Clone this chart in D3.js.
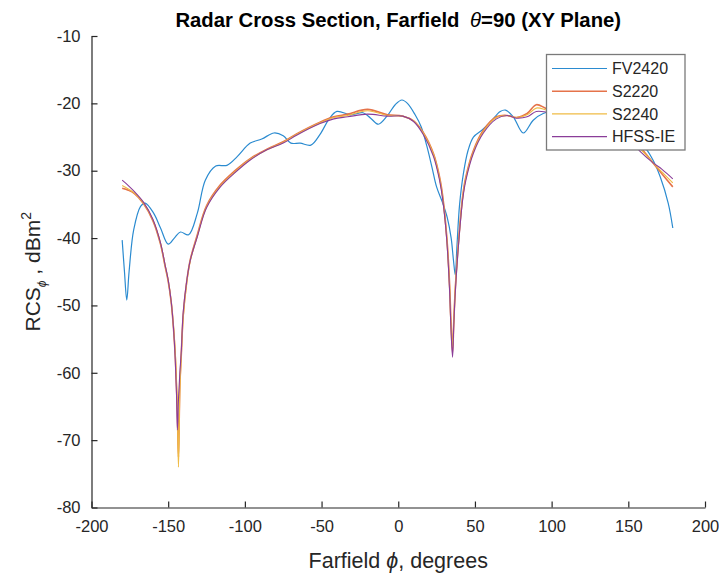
<!DOCTYPE html>
<html>
<head>
<meta charset="utf-8">
<script src="https://cdn.jsdelivr.net/npm/d3@7"></script>
<style>
  html, body { margin: 0; padding: 0; background: #ffffff; }
  svg { display: block; font-family: "Liberation Sans", Arial, Helvetica, sans-serif; }
</style>
</head>
<body>
<svg id="chart" width="719" height="576"></svg>
<script>
// Farfield angle samples (degrees) shared by the three smooth solver curves
const phiSmooth = [-180, -176, -172, -166, -160, -155, -152, -150, -148, -146.5, -145.4, -144.6, -144, -143.3, -142.4, -141.5, -140.2, -138, -135.6, -131, -125, -116, -107, -96.5, -85.6, -75, -66, -51, -42, -33, -20, -7, 3, 10, 16.5, 23, 27, 29, 31.7, 33.5, 34.3, 35.4, 36.2, 37.2, 39.3, 42, 44, 49, 55.5, 64, 71, 77, 84, 90, 97, 110, 125, 140, 150, 158, 166, 172, 179];

// RCS values in dBm^2
const hfssIE = [-31.4, -32.2, -33.1, -34.7, -37.2, -40.7, -44, -46.2, -49.5, -53.5, -58, -63, -68.5, -64, -60, -57, -51, -46.5, -43.3, -39.8, -35.5, -32.4, -30.4, -28.4, -26.9, -25.9, -24.7, -23, -22.3, -22, -21.6, -21.9, -21.9, -22.7, -24.7, -27.9, -31.5, -34.3, -40.5, -48, -53, -57.7, -53, -48, -41, -34.3, -31.5, -27.4, -24.4, -22.3, -21.8, -22.2, -22, -21.2, -21.3, -21.8, -22.6, -23.8, -25.2, -27.2, -28.8, -29.8, -31.2];

const s2220 = [-32.6, -32.9, -33.4, -34.9, -37.4, -40.9, -44.2, -46.4, -49.6, -53.5, -57.5, -62, -66, -72.5, -62, -57.5, -51.5, -46.6, -43.2, -39.5, -35.2, -32.1, -30.1, -28.2, -26.8, -25.7, -24.5, -22.8, -22, -21.6, -20.9, -21.7, -21.9, -22.6, -24.4, -27.5, -31, -33.8, -40, -47, -52, -57, -52.5, -47.5, -40.5, -33.8, -31, -27, -24, -22, -21.8, -22.1, -21.5, -20.2, -20.8, -21.5, -22.4, -23.6, -25, -26.6, -28.8, -30.5, -32.4];

const s2240 = [-32.2, -32.7, -33.3, -34.8, -37.3, -40.8, -44.1, -46.3, -49.5, -53.3, -57, -61.5, -65.5, -74, -62.5, -57.7, -51.7, -46.8, -43.4, -39.7, -35.4, -32.3, -30.3, -28.3, -26.9, -25.8, -24.6, -22.9, -22.1, -21.8, -21.1, -21.8, -21.9, -22.6, -24.5, -27.6, -31.2, -34, -40.2, -47.5, -52.5, -56.2, -52.5, -47.5, -40.7, -34, -31.2, -27.2, -24.2, -22.1, -21.8, -22.1, -21.7, -20.7, -21, -21.6, -22.5, -23.7, -25.1, -26.8, -28.8, -30.2, -31.8];

// Measured curve on its own angle grid
const phiFV = [-180, -178.5, -177, -175.5, -172.5, -168, -165, -159.5, -155, -150, -146, -142, -136.7, -131, -125.8, -119, -111.7, -105, -96.5, -89, -81, -75, -70, -64, -57, -51, -45, -40, -31, -23, -18, -13, -7, -2, 2.4, 6, 11, 15, 18.7, 22, 25, 29, 32, 34.5, 36, 37.2, 38.2, 40, 42.5, 45.5, 49, 54.5, 60, 66.5, 70, 75, 81.5, 88, 94.5, 100, 110, 120, 130, 140, 150, 157, 162, 166.5, 170.8, 176, 179];
const fv2420 = [-40.3, -45, -49.2, -45, -38.8, -35.3, -34.8, -36.3, -38.5, -40.9, -40, -39.1, -39.5, -36.3, -31.4, -29.3, -29.2, -27.9, -25.9, -25.3, -24.4, -24.8, -25.9, -25.9, -26.2, -24.6, -22.3, -21.2, -21.7, -21.4, -22.2, -23.1, -21.8, -20.2, -19.5, -20, -21.7, -23.5, -26.4, -29.5, -32.4, -34.8, -37, -40, -43.3, -45.5, -41.5, -35, -30.4, -27, -25, -24, -22.8, -21.2, -21, -22, -24.4, -22.5, -21.5, -21.3, -22.3, -21.8, -22.8, -23, -24.5, -25.8, -26.9, -28.6, -30.9, -34.8, -38.5];

const seriesNames = ["FV2420", "S2220", "S2240", "HFSS-IE"];
const xTicks = [-200, -150, -100, -50, 0, 50, 100, 150, 200];
const yTicks = [-80, -70, -60, -50, -40, -30, -20, -10];

const series = [
  { name: seriesNames[0], phi: phiFV, rcs: fv2420, color: "#2b8bd0", width: 1.2 },
  { name: seriesNames[1], phi: phiSmooth, rcs: s2220, color: "#e5734a", width: 1.6 },
  { name: seriesNames[2], phi: phiSmooth, rcs: s2240, color: "#efbb45", width: 1.2 },
  { name: seriesNames[3], phi: phiSmooth, rcs: hfssIE, color: "#8a3d99", width: 1.1 }
];

const svg = d3.select("#chart");
const plot = { left: 91.5, right: 705, top: 36, bottom: 507.5 };
const axisColor = "#262626";

const x = d3.scaleLinear().domain([-200, 200]).range([plot.left, plot.right]);
const y = d3.scaleLinear().domain([-80, -10]).range([plot.bottom, plot.top]);

svg.append("defs").append("clipPath").attr("id", "plotClip")
  .append("rect")
  .attr("x", plot.left).attr("y", plot.top)
  .attr("width", plot.right - plot.left).attr("height", plot.bottom - plot.top);

// Curves
const line = d3.line()
  .x(d => x(d[0]))
  .y(d => y(d[1]))
  .curve(d3.curveCatmullRom.alpha(0.5));

const curves = svg.append("g").attr("clip-path", "url(#plotClip)");
series.forEach(s => {
  curves.append("path")
    .datum(s.phi.map((p, i) => [p, s.rcs[i]]))
    .attr("d", line)
    .attr("fill", "none")
    .attr("stroke", s.color)
    .attr("stroke-width", s.width)
    .attr("stroke-linejoin", "round");
});

// Axes (ticks point inward, no box); plain hyphen for negative labels
const fmt = d => String(d);
const xAxis = d3.axisBottom(x).tickValues(xTicks).tickFormat(fmt).tickSizeInner(-6).tickSizeOuter(0).tickPadding(11);
const yAxis = d3.axisLeft(y).tickValues(yTicks).tickFormat(fmt).tickSizeInner(-6).tickSizeOuter(0).tickPadding(11);

const gx = svg.append("g").attr("transform", `translate(0,${plot.bottom})`).call(xAxis);
const gy = svg.append("g").attr("transform", `translate(${plot.left},0)`).call(yAxis);

[gx, gy].forEach(g => {
  g.select(".domain").attr("stroke", axisColor).attr("stroke-width", 1.2);
  g.selectAll(".tick line").attr("stroke", axisColor).attr("stroke-width", 1.2);
  g.selectAll(".tick text")
    .attr("fill", axisColor)
    .style("font-family", "'Liberation Sans', Arial, sans-serif")
    .style("font-size", "16.5px");
});
gx.selectAll(".tick text").attr("dy", "0.8em");

// Title
const title = svg.append("text")
  .attr("x", (plot.left + plot.right) / 2)
  .attr("y", 27)
  .attr("text-anchor", "middle")
  .attr("fill", "#000")
  .style("font-size", "20.3px")
  .style("font-weight", "bold");
title.append("tspan").text("Radar Cross Section, Farfield ");
title.append("tspan").attr("dx", 5).style("font-style", "italic").style("font-weight", "normal").text("θ");
title.append("tspan").text("=90 (XY Plane)");

// X label
const xl = svg.append("text")
  .attr("x", (plot.left + plot.right) / 2)
  .attr("y", 568)
  .attr("text-anchor", "middle")
  .attr("fill", axisColor)
  .style("font-size", "21.5px");
xl.append("tspan").text("Farfield ");
xl.append("tspan").style("font-style", "italic").text("ϕ");
xl.append("tspan").text(", degrees");

// Y label
const yl = svg.append("text")
  .attr("transform", `translate(40,${(plot.top + plot.bottom) / 2}) rotate(-90)`)
  .attr("text-anchor", "middle")
  .attr("fill", axisColor)
  .style("font-size", "21px");
yl.append("tspan").text("RCS");
yl.append("tspan").attr("dy", 6).style("font-size", "12px").style("font-style", "italic").text("ϕ");
yl.append("tspan").attr("dy", -6).text(" , dBm");
yl.append("tspan").attr("dy", -9).style("font-size", "14px").text("2");

// Legend
const legend = svg.append("g");
legend.append("rect")
  .attr("x", 546.5).attr("y", 54.5)
  .attr("width", 138.5).attr("height", 95.5)
  .attr("fill", "#ffffff")
  .attr("stroke", "#7a7a7a")
  .attr("stroke-width", 1.3);
series.forEach((s, i) => {
  const ly = 68.5 + i * 22.7;
  legend.append("line")
    .attr("x1", 552).attr("x2", 607)
    .attr("y1", ly).attr("y2", ly)
    .attr("stroke", s.color)
    .attr("stroke-width", s.width);
  legend.append("text")
    .attr("x", 612).attr("y", ly)
    .attr("dy", "0.36em")
    .attr("fill", axisColor)
    .style("font-size", "16px")
    .text(s.name);
});
</script>
</body>
</html>
